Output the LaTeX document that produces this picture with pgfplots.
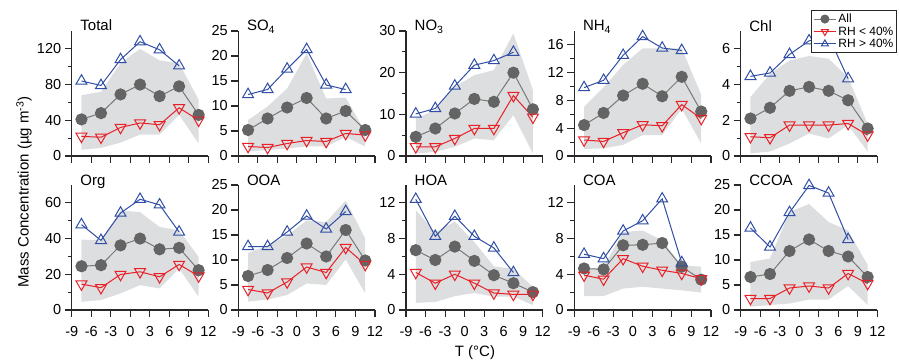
\documentclass[border=0pt]{standalone}
\usepackage{fontspec}
\setmainfont{Liberation Sans}
\usepackage{pgfplots}
\pgfplotsset{compat=1.18}
\definecolor{bandgray}{RGB}{221,222,223}
\definecolor{allline}{RGB}{120,120,120}
\definecolor{allmark}{RGB}{100,100,100}
\definecolor{redc}{RGB}{232,32,40}
\definecolor{bluec}{RGB}{48,78,165}
\definecolor{axc}{RGB}{40,40,40}
\newcommand\fs{\fontsize{14.5bp}{17bp}\selectfont}
\newcommand\tf{\fontsize{15bp}{18bp}\selectfont}
\newcommand\lf{\fontsize{12bp}{14bp}\selectfont}
\pgfplotsset{
  panel/.style={scale only axis, width=136.7bp, height=125bp, anchor=south west,
    xmin=-9, xmax=12, ymin=0, xtick={-9,-6,...,12},
    axis lines=left, axis line style={-, line width=1.1bp, axc},
    tick style={line width=1.1bp, axc},
    tick align=outside, major tick length=7bp, minor tick length=4bp,
    ticklabel style={font=\fs},
    xticklabel style={yshift=-6bp},
    /pgf/number format/assume math mode=true,
    clip=false},
  toprow/.style={xticklabels={}},
  allst/.style={allline, line width=1bp, mark=*, mark size=5.6bp, mark options={fill=allmark, draw=allmark}},
  lowst/.style={redc, line width=1bp, mark=triangle, mark size=6.3bp, mark options={rotate=180, line width=1bp}},
  highst/.style={bluec, line width=1bp, mark=triangle, mark size=6.3bp, mark options={line width=1bp}},
  legimg/.style={legend image code/.code={\draw[mark repeat=2,mark phase=2,##1] plot coordinates {(0bp,0bp) (11bp,0bp) (22bp,0bp)};}},
}
\newcommand\panel[8]{%
 \begin{axis}[panel, at={(#1)}, #2]
 \addplot[fill=bandgray, draw=none, forget plot] coordinates {#4};
 \addplot[allst] coordinates {#5};
 \addplot[lowst] coordinates {#6};
 \addplot[highst] coordinates {#7};
 \node[anchor=base west, font=\tf, inner sep=0pt] at (rel axis cs:0,1) [xshift=8.5bp] {#3};
 #8
 \end{axis}}
\begin{document}
\begin{tikzpicture}
\path (0,0) rectangle (899bp,360bp);
% ---------- top row
\panel{71.7bp,204bp}{toprow, ymax=140, ytick={0,40,80,120}, minor y tick num=1}{Total}
{(-7.5,68)(-4.5,72)(-1.5,104)(1.5,120)(4.5,107)(7.5,104)(10.5,63)(10.5,14)(7.5,46)(4.5,24)(1.5,24)(-1.5,15)(-4.5,9)(-7.5,7)}
{(-7.5,41)(-4.5,48)(-1.5,69)(1.5,80)(4.5,67)(7.5,78)(10.5,46)}
{(-7.5,22)(-4.5,21)(-1.5,32)(1.5,37)(4.5,35)(7.5,54)(10.5,40)}
{(-7.5,84)(-4.5,79)(-1.5,108)(1.5,128)(4.5,119)(7.5,101)}{}
\panel{238.3bp,204bp}{toprow, ymax=25, ytick={0,5,...,25}}{SO\textsubscript{4}}
{(-7.5,7.2)(-4.5,9.9)(-1.5,13.5)(1.5,20.5)(4.5,11.5)(7.5,11.7)(10.5,4.8)(10.5,1.9)(7.5,3.8)(4.5,1.9)(1.5,1.9)(-1.5,1.5)(-4.5,1.2)(-7.5,0.9)}
{(-7.5,5.2)(-4.5,7.5)(-1.5,9.7)(1.5,11.6)(4.5,7.5)(7.5,9.0)(10.5,5.2)}
{(-7.5,1.9)(-4.5,1.7)(-1.5,2.5)(1.5,3.1)(4.5,2.9)(7.5,4.5)(10.5,4.2)}
{(-7.5,12.3)(-4.5,13.3)(-1.5,17.4)(1.5,21.3)(4.5,14.2)(7.5,13.3)}{}
\panel{406bp,204bp}{toprow, ymax=30, ytick={0,10,20,30}, minor y tick num=1}{NO\textsubscript{3}}
{(-7.5,9.0)(-4.5,11)(-1.5,16.6)(1.5,19.4)(4.5,20.6)(7.5,29.4)(10.5,15.8)(10.5,0.6)(7.5,9.8)(4.5,3.8)(1.5,4.2)(-1.5,2.2)(-4.5,1.0)(-7.5,0.6)}
{(-7.5,4.6)(-4.5,6.6)(-1.5,10.2)(1.5,13.7)(4.5,13.0)(7.5,20)(10.5,11.2)}
{(-7.5,2.2)(-4.5,2.2)(-1.5,4.2)(1.5,6.6)(4.5,6.6)(7.5,14.5)(10.5,9.3)}
{(-7.5,10.1)(-4.5,11.4)(-1.5,16.8)(1.5,21.8)(4.5,22.9)(7.5,24.9)}{}
\panel{574.3bp,204bp}{toprow, ymax=18, ytick={0,4,...,16}, minor y tick num=1}{NH\textsubscript{4}}
{(-7.5,7.1)(-4.5,9.9)(-1.5,13.1)(1.5,15.5)(4.5,15.5)(7.5,15.5)(10.5,8.8)(10.5,1.8)(7.5,6.8)(4.5,3.0)(1.5,3.0)(-1.5,1.6)(-4.5,1.1)(-7.5,1.0)}
{(-7.5,4.45)(-4.5,6.2)(-1.5,8.7)(1.5,10.4)(4.5,8.6)(7.5,11.4)(10.5,6.4)}
{(-7.5,2.3)(-4.5,2.1)(-1.5,3.35)(1.5,4.5)(4.5,4.35)(7.5,7.4)(10.5,5.4)}
{(-7.5,9.85)(-4.5,10.9)(-1.5,14.5)(1.5,17.2)(4.5,15.55)(7.5,15.2)}{}
\panel{740.7bp,204bp}{toprow, ymax=7, ytick={0,2,4,6}, minor y tick num=1, legimg,
  legend entries={All, RH < 40\%, RH > 40\%},
  legend style={at={(1.146,1.168)}, anchor=north east, font=\lf, draw=axc, line width=0.9bp, inner sep=1.5bp, row sep=-1.5bp, cells={anchor=west}},
  legend image post style={mark size=4bp}}{Chl}
{(-7.5,3.3)(-4.5,4.6)(-1.5,5.35)(1.5,5.6)(4.5,5.45)(7.5,4.4)(10.5,1.8)(10.5,0.25)(7.5,1.73)(4.5,0.98)(1.5,1.26)(-1.5,0.7)(-4.5,0.25)(-7.5,0.15)}
{(-7.5,2.1)(-4.5,2.7)(-1.5,3.65)(1.5,3.87)(4.5,3.65)(7.5,3.12)(10.5,1.54)}
{(-7.5,1.08)(-4.5,1.02)(-1.5,1.73)(1.5,1.73)(4.5,1.73)(7.5,1.82)(10.5,1.17)}
{(-7.5,4.46)(-4.5,4.65)(-1.5,5.69)(1.5,6.45)(4.5,6.7)(7.5,4.33)}{}
% ---------- bottom row
\panel{71.7bp,50bp}{ymax=70, ytick={0,20,40,60}, minor y tick num=1}{Org}
{(-7.5,39.4)(-4.5,39)(-1.5,55.8)(1.5,54.8)(4.5,46.5)(7.5,44.6)(10.5,29.7)(10.5,7.4)(7.5,23.2)(4.5,12.1)(1.5,13.9)(-1.5,9.3)(-4.5,5.6)(-7.5,4.6)}
{(-7.5,24.5)(-4.5,25.1)(-1.5,36.2)(1.5,40)(4.5,34)(7.5,34.8)(10.5,22.3)}
{(-7.5,14.5)(-4.5,12.5)(-1.5,19.9)(1.5,21.4)(4.5,18.6)(7.5,25.5)(10.5,19)}
{(-7.5,47.8)(-4.5,39)(-1.5,54.3)(1.5,62)(4.5,58.9)(7.5,43.7)}{}
\panel{238.3bp,50bp}{ymax=25, ytick={0,5,...,25}}{OOA}
{(-7.5,11.4)(-4.5,12.9)(-1.5,14.9)(1.5,17.9)(4.5,17.6)(7.5,21.9)(10.5,14.3)(10.5,3.3)(7.5,10.1)(4.5,5.0)(1.5,5.3)(-1.5,3.0)(-4.5,2.1)(-7.5,1.66)}
{(-7.5,6.8)(-4.5,8.0)(-1.5,10.4)(1.5,13.3)(4.5,10.7)(7.5,16.0)(10.5,9.9)}
{(-7.5,4.1)(-4.5,3.4)(-1.5,5.6)(1.5,8.6)(4.5,7.5)(7.5,12.5)(10.5,9.1)}
{(-7.5,12.7)(-4.5,12.7)(-1.5,15.6)(1.5,18.8)(4.5,16.2)(7.5,19.7)}{}
\panel{406bp,50bp}{ymax=14, ytick={0,4,8,12}, minor y tick num=1}{HOA}
{(-7.5,11.2)(-4.5,8.7)(-1.5,9.9)(1.5,7.6)(4.5,4.9)(7.5,4.6)(10.5,2.6)(10.5,0.55)(7.5,1.5)(4.5,1.5)(1.5,1.9)(-1.5,1.55)(-4.5,0.9)(-7.5,0.8)}
{(-7.5,6.7)(-4.5,5.6)(-1.5,7.1)(1.5,5.5)(4.5,3.9)(7.5,3.0)(10.5,2.0)}
{(-7.5,4.2)(-4.5,3.0)(-1.5,4.0)(1.5,3.0)(4.5,1.9)(7.5,1.75)(10.5,1.75)}
{(-7.5,12.4)(-4.5,8.25)(-1.5,10.5)(1.5,8.25)(4.5,6.95)(7.5,4.2)}{}
\panel{574.3bp,50bp}{ymax=14, ytick={0,4,8,12}, minor y tick num=1}{COA}
{(-7.5,4.5)(-4.5,4.85)(-1.5,8.75)(1.5,8.9)(4.5,7.8)(7.5,5.0)(10.5,4.85)(10.5,1.95)(7.5,2.2)(4.5,2.4)(1.5,2.6)(-1.5,2.4)(-4.5,1.55)(-7.5,1.55)}
{(-7.5,4.65)(-4.5,4.55)(-1.5,7.25)(1.5,7.3)(4.5,7.5)(7.5,4.85)(10.5,3.4)}
{(-7.5,3.9)(-4.5,3.45)(-1.5,5.75)(1.5,4.9)(4.5,4.45)(7.5,4.1)(10.5,3.5)}
{(-7.5,6.25)(-4.5,5.75)(-1.5,8.85)(1.5,10.0)(4.5,12.45)(7.5,5.3)}{}
\panel{740.7bp,50bp}{ymax=25, ytick={0,5,...,25}}{CCOA}
{(-7.5,9.6)(-4.5,10.3)(-1.5,19.6)(1.5,21.2)(4.5,17.6)(7.5,15.9)(10.5,9.0)(10.5,1.0)(7.5,4.8)(4.5,2.1)(1.5,2.1)(-1.5,1.3)(-4.5,1.0)(-7.5,0.66)}
{(-7.5,6.6)(-4.5,7.2)(-1.5,11.8)(1.5,14.1)(4.5,11.8)(7.5,10.7)(10.5,6.6)}
{(-7.5,2.3)(-4.5,2.3)(-1.5,4.4)(1.5,4.8)(4.5,4.4)(7.5,7.3)(10.5,5.3)}
{(-7.5,16.4)(-4.5,12.6)(-1.5,19.5)(1.5,24.9)(4.5,23.4)(7.5,14.1)}{}
% ---------- shared labels
\node[rotate=90, font=\tf, inner sep=0pt] at (24bp,168bp) {Mass Concentration (µg m\textsuperscript{-3})};
\node[font=\tf, anchor=base, inner sep=0pt] at (475bp,4bp) {T (°C)};
\end{tikzpicture}
\end{document}
